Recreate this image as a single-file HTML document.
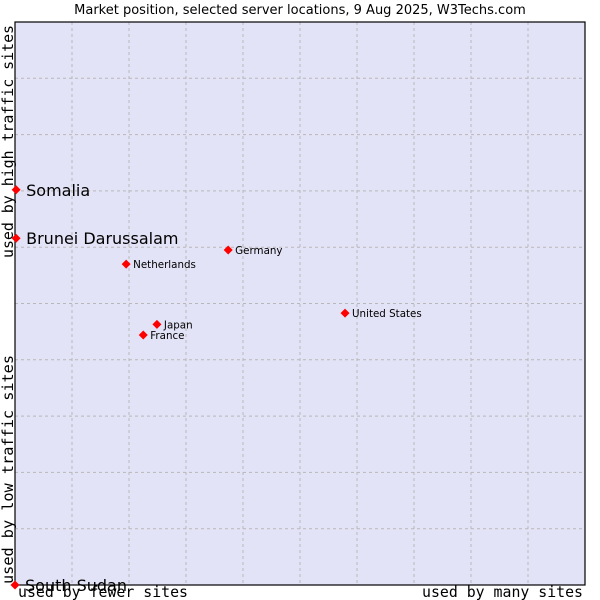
<!DOCTYPE html>
<html><head><meta charset="utf-8"><style>
html,body{margin:0;padding:0;background:#fff;}
svg{display:block;font-family:"DejaVu Sans","Liberation Sans",sans-serif;}
</style></head><body>
<svg id="chart" width="600" height="600">
<text x="300" y="14" text-anchor="middle" font-size="13" fill="#000">Market position, selected server locations, 9 Aug 2025, W3Techs.com</text>
<rect x="15" y="22" width="570" height="563" fill="#e3e3f7"/>
<g id="grid"></g>
<rect x="15" y="22" width="570" height="563" fill="none" stroke="#000" stroke-width="1.2"/>
<text transform="translate(13,258) rotate(-90)" textLength="233" lengthAdjust="spacingAndGlyphs" font-family="'DejaVu Sans Mono','Liberation Mono',monospace" font-size="15" fill="#000">used by high traffic sites</text>
<text transform="translate(13,584) rotate(-90)" textLength="229" lengthAdjust="spacingAndGlyphs" font-family="'DejaVu Sans Mono','Liberation Mono',monospace" font-size="15" fill="#000">used by low traffic sites</text>
<text x="18" y="597" textLength="170" lengthAdjust="spacingAndGlyphs" font-family="'DejaVu Sans Mono','Liberation Mono',monospace" font-size="15" fill="#000">used by fewer sites</text>
<text x="422" y="597" textLength="161" lengthAdjust="spacingAndGlyphs" font-family="'DejaVu Sans Mono','Liberation Mono',monospace" font-size="15" fill="#000">used by many sites</text>
<g id="points"></g>
</svg>
<script>
const names = ["Somalia","Brunei Darussalam","Germany","Netherlands","United States","Japan","France","South Sudan"];
const xValues = [0.2,0.2,37.4,19.5,57.9,24.9,22.5,0];
const yValues = [70.2,61.6,59.5,57.0,48.3,46.3,44.4,0];
const bigLabel = [true,true,false,false,false,false,false,true];
const NS="http://www.w3.org/2000/svg";
const L=15,T=22,W=570,H=563;
const xs=v=>L+v/100*W, ys=v=>T+H-v/100*H;
const grid=document.getElementById('grid');
for(let i=1;i<10;i++){
  const l=document.createElementNS(NS,'line');
  
  
  l.setAttribute('x1',xs(i*10));l.setAttribute('x2',xs(i*10));l.setAttribute('y1',T);l.setAttribute('y2',T+H);
  l.setAttribute('stroke','#b8b8b8');l.setAttribute('stroke-dasharray','3,3');grid.appendChild(l);
  const m=document.createElementNS(NS,'line');
  
  
  m.setAttribute('y1',ys(i*10));m.setAttribute('y2',ys(i*10));m.setAttribute('x1',L);m.setAttribute('x2',L+W);
  m.setAttribute('stroke','#b8b8b8');m.setAttribute('stroke-dasharray','3,3');grid.appendChild(m);
}
const pts=document.getElementById('points');
names.forEach((n,i)=>{
  const x=xs(xValues[i]),y=ys(yValues[i]);
  const p=document.createElementNS(NS,'polygon');
  
  
  p.setAttribute('points',`${x},${y-4.5} ${x+4.5},${y} ${x},${y+4.5} ${x-4.5},${y}`);
  p.setAttribute('fill','#f00');pts.appendChild(p);
  const t=document.createElementNS(NS,'text');
  
  
  t.setAttribute('x',x+(bigLabel[i]?10:7));
  t.setAttribute('y',y+(bigLabel[i]?6:4));
  t.setAttribute('font-size',bigLabel[i]?'16':'10.3');
  t.textContent=n;pts.appendChild(t);
});
</script>
</body></html>
